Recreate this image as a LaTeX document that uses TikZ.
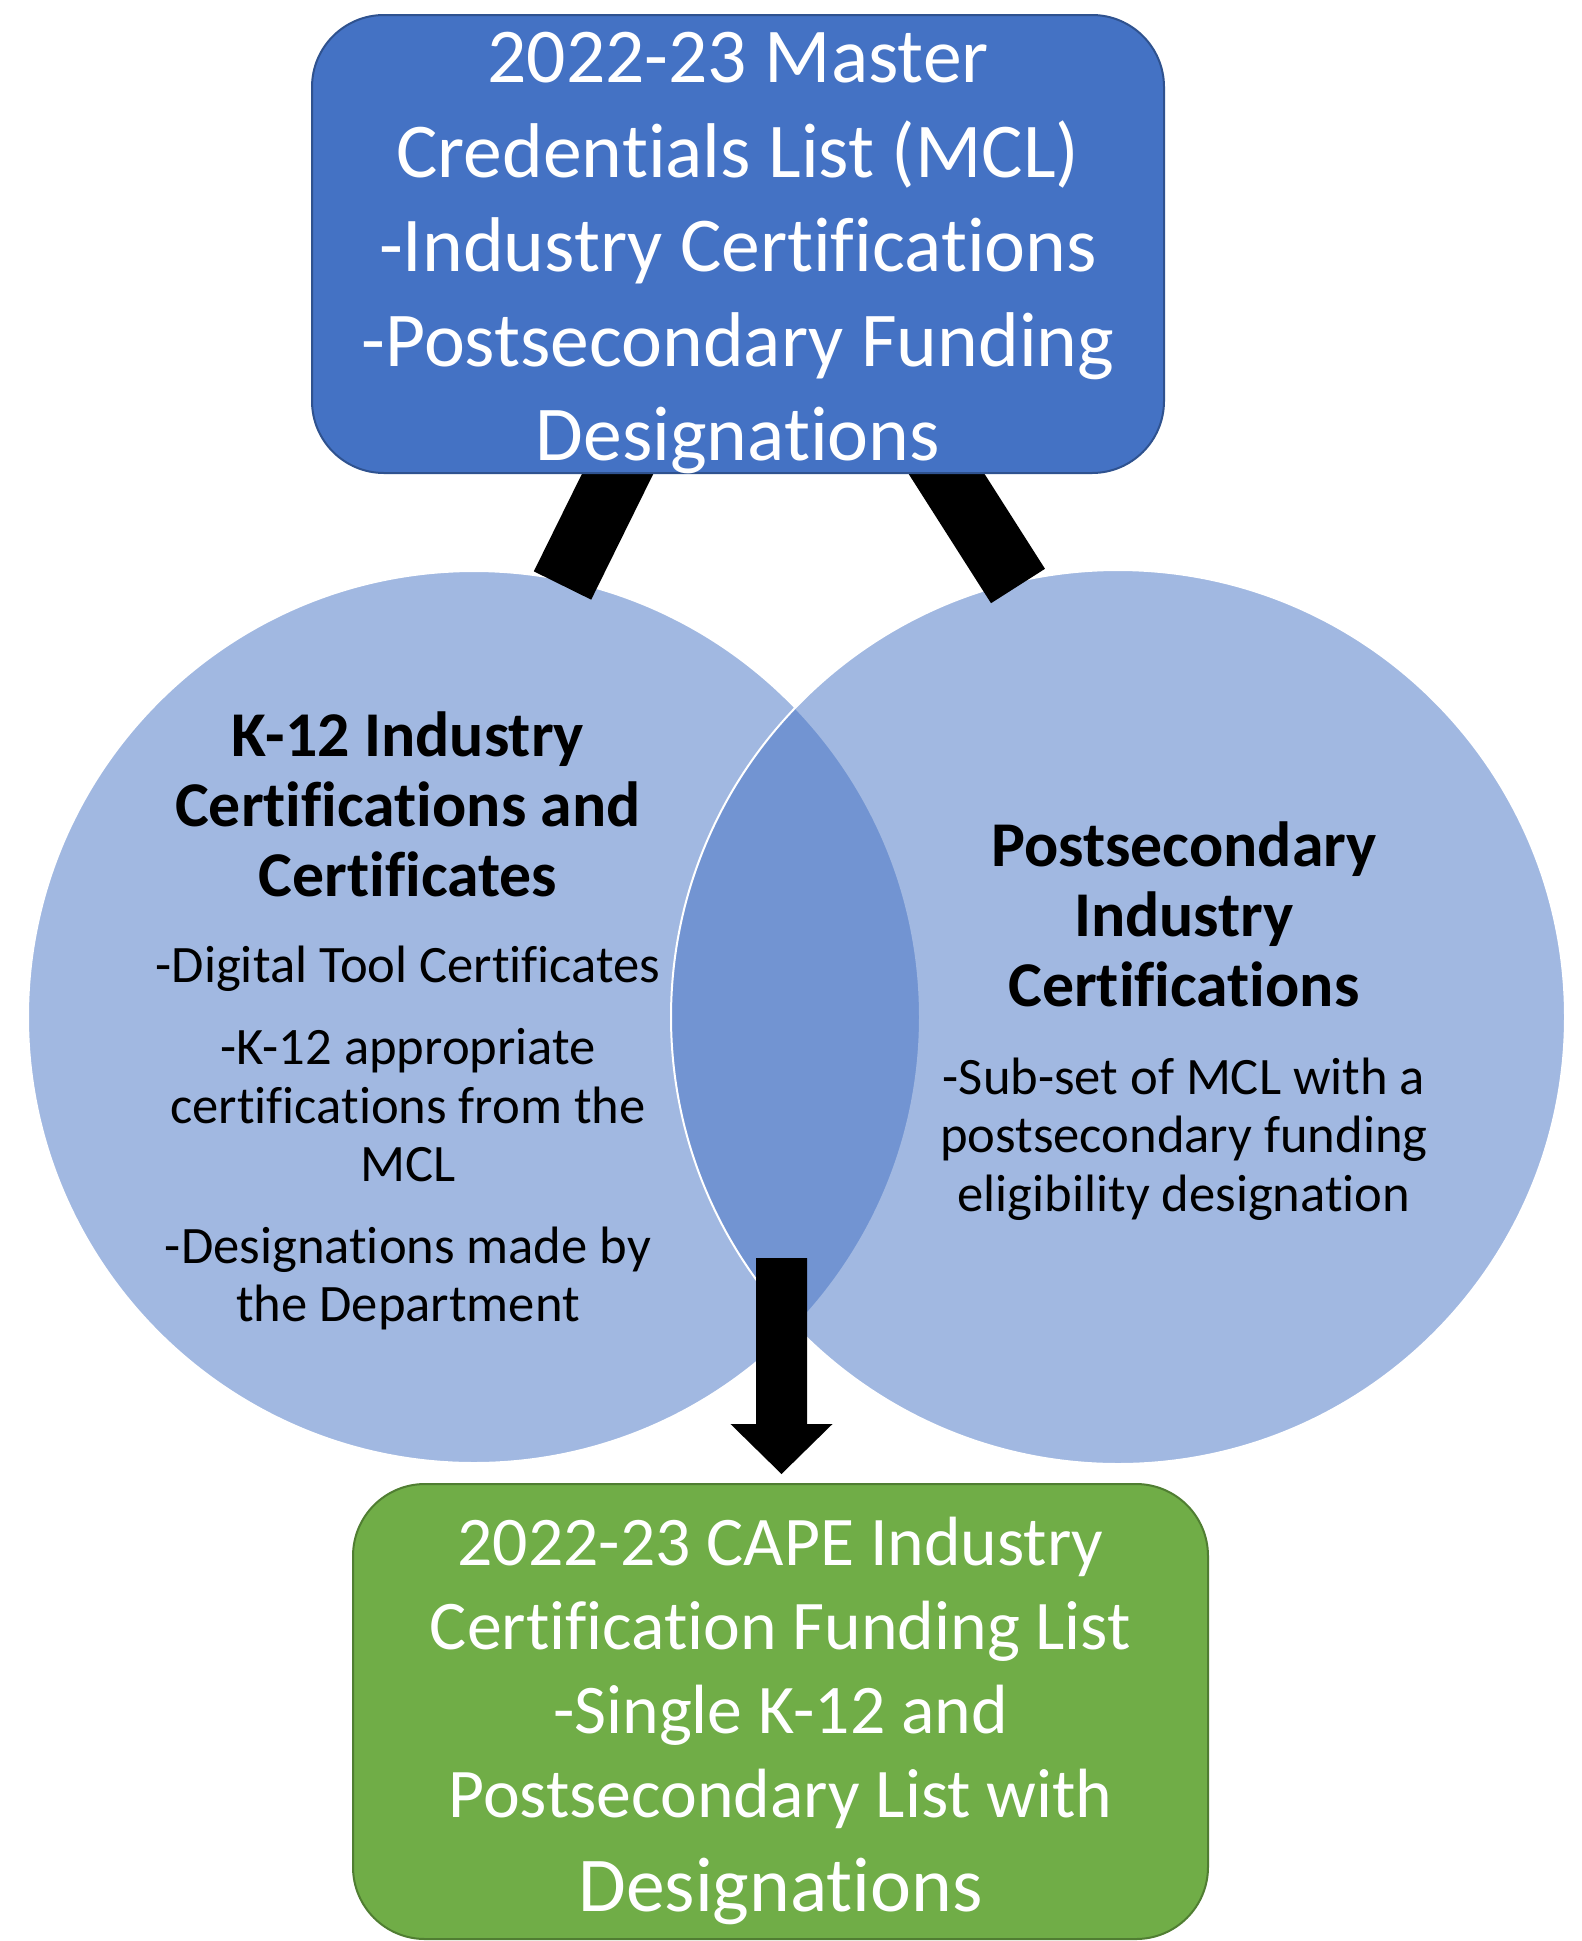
\documentclass[tikz,border=0pt]{standalone}
\usepackage{fontspec}
\setmainfont[Ligatures=NoCommon]{Carlito}
\definecolor{mblue}{HTML}{4472C4}
\definecolor{mblueline}{HTML}{2F528F}
\definecolor{mgreen}{HTML}{70AD47}
\definecolor{mgreenline}{HTML}{507E32}
\begin{document}
\begin{tikzpicture}[x=1pt,y=-1pt,
  venn/.style={circle, fill=mblue, fill opacity=0.5, draw=white, line width=2pt, inner sep=0pt},
  bigbox/.style={rectangle, rounded corners=72pt, line width=2pt, inner sep=0pt},
  boxtext/.style={align=center, text=white, inner sep=0pt},
  headtext/.style={align=center, font=\bfseries\fontsize{63.8}{70}\selectfont, text=black},
  bodytext/.style={align=center, font=\fontsize{52.6}{58.5}\selectfont, text=black},
  bar/.style={line width=64pt, black}]
\useasboundingbox (0,0) rectangle (1582,1941);
\fill[white] (0,0) rectangle (1582,1941);
% circles
\node[venn, minimum size=892pt] (k12) at (474,1017) {};
\node[venn, minimum size=894pt] (post) at (1118,1017) {};
% bars
\coordinate (lbtop) at (634.7,439.3);
\coordinate (lbend) at (562.5,585.5);
\coordinate (rbtop) at (924.4,439.1);
\coordinate (rbend) at (1018,586);
\draw[bar] (lbtop) -- (lbend);
\draw[bar] (rbtop) -- (rbend);
% top box
\node[bigbox, fill=mblue, draw=mblueline, minimum width=852pt, minimum height=458pt] (mcl) at (738,244) {};
\node[boxtext, font=\fontsize{77.6}{94.5}\selectfont] (mcltext) at (738,253)
  {2022-23 Master\\Credentials List (MCL)\\-Industry Certifications\\-Postsecondary Funding\\Designations};
% circle texts
\node[headtext] (k12head) at (408,804) {K-12 Industry\\Certifications and\\Certificates};
\node[bodytext] (k12a) at (408,968.5) {-Digital Tool Certificates};
\node[bodytext] (k12b) at (408,1105.5) {-K-12 appropriate\\certifications from the\\MCL};
\node[bodytext] (k12c) at (408,1278.5) {-Designations made by\\the Department};
\node[headtext] (pshead) at (1184,914) {Postsecondary\\Industry\\Certifications};
\node[bodytext] (psa) at (1184,1139) {-Sub-set of MCL with a\\postsecondary funding\\eligibility designation};
% bottom box
\node[bigbox, fill=mgreen, draw=mgreenline, minimum width=855pt, minimum height=455pt] (cape) at (780.5,1711.5) {};
\node[boxtext, font=\fontsize{69.7}{84}\selectfont] (capetext) at (780.5,1720.5)
  {2022-23 CAPE Industry\\Certification Funding List\\-Single K-12 and\\Postsecondary List with\\[10pt]{\fontsize{77.6}{91}\selectfont Designations}};
% down arrow
\coordinate (arrowstart) at (781.5,1258);
\coordinate (arrowtip) at (781.5,1474);
\fill[black] (arrowstart) ++(-25.5,0) -- ++(51,0) -- ++(0,166) -- ++(25.5,0) -- (arrowtip) -- ++(-51,-50) -- ++(25.5,0) -- cycle;
\end{tikzpicture}
\end{document}
